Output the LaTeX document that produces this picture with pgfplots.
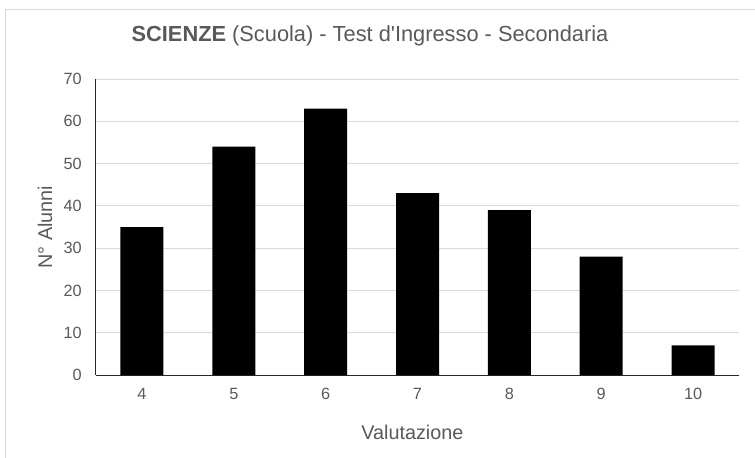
\documentclass[border=0pt]{standalone}
\usepackage{pgfplots}
\pgfplotsset{compat=1.18}
\usepackage{fontspec}
\setmainfont{Liberation Sans}
\definecolor{txtc}{RGB}{89,89,89}
\definecolor{gridc}{RGB}{217,217,217}
\definecolor{axlc}{RGB}{40,40,40}
\begin{document}
\begin{tikzpicture}
\useasboundingbox (-96bp,-83bp) rectangle (659bp,375bp);
\draw[gridc, line width=1bp] (-90bp,-90bp) -- (-90bp,365bp) -- (670bp,365bp);
\begin{axis}[
  at={(0,0)}, anchor=south west,
  scale only axis,
  width=643bp, height=296bp,
  xmin=-0.5, xmax=6.5,
  ymin=0, ymax=70,
  xtick={0,1,2,3,4,5,6},
  xticklabels={4,5,6,7,8,9,10},
  ytick={0,10,20,30,40,50,60,70},
  xmajorgrids=false,
  ymajorgrids=true,
  grid style={color=gridc, line width=1bp},
  major tick length=0pt,
  axis x line*=bottom,
  axis y line*=left,
  axis line style={axlc, line width=1bp, -},
  /pgf/number format/assume math mode=true,
  tick label style={font=\fontsize{16.3bp}{19bp}\selectfont, text=txtc, inner sep=0pt},
  yticklabel style={anchor=east, xshift=-14bp},
  xticklabel style={anchor=north, yshift=-13bp},
  xlabel={Valutazione},
  ylabel={N° Alunni},
  label style={font=\fontsize{19.8bp}{23bp}\selectfont, text=txtc},
  xlabel style={at={(axis description cs:0.492,-0.1926)}, anchor=center},
  ylabel style={at={(axis description cs:-0.0793,0.5)}, anchor=center},
  clip=false,
]
\addplot[ybar, bar width=43bp, fill=black, draw=none] coordinates {
  (0,35) (1,54) (2,63) (3,43) (4,39) (5,28) (6,7)
};
\end{axis}
\node[anchor=base, text=txtc, font=\fontsize{21.8bp}{26bp}\selectfont, inner sep=0pt] at (274bp,333bp) {\textbf{SCIENZE} (Scuola) - Test d\textquotesingle Ingresso - Secondaria};
\end{tikzpicture}
\end{document}
